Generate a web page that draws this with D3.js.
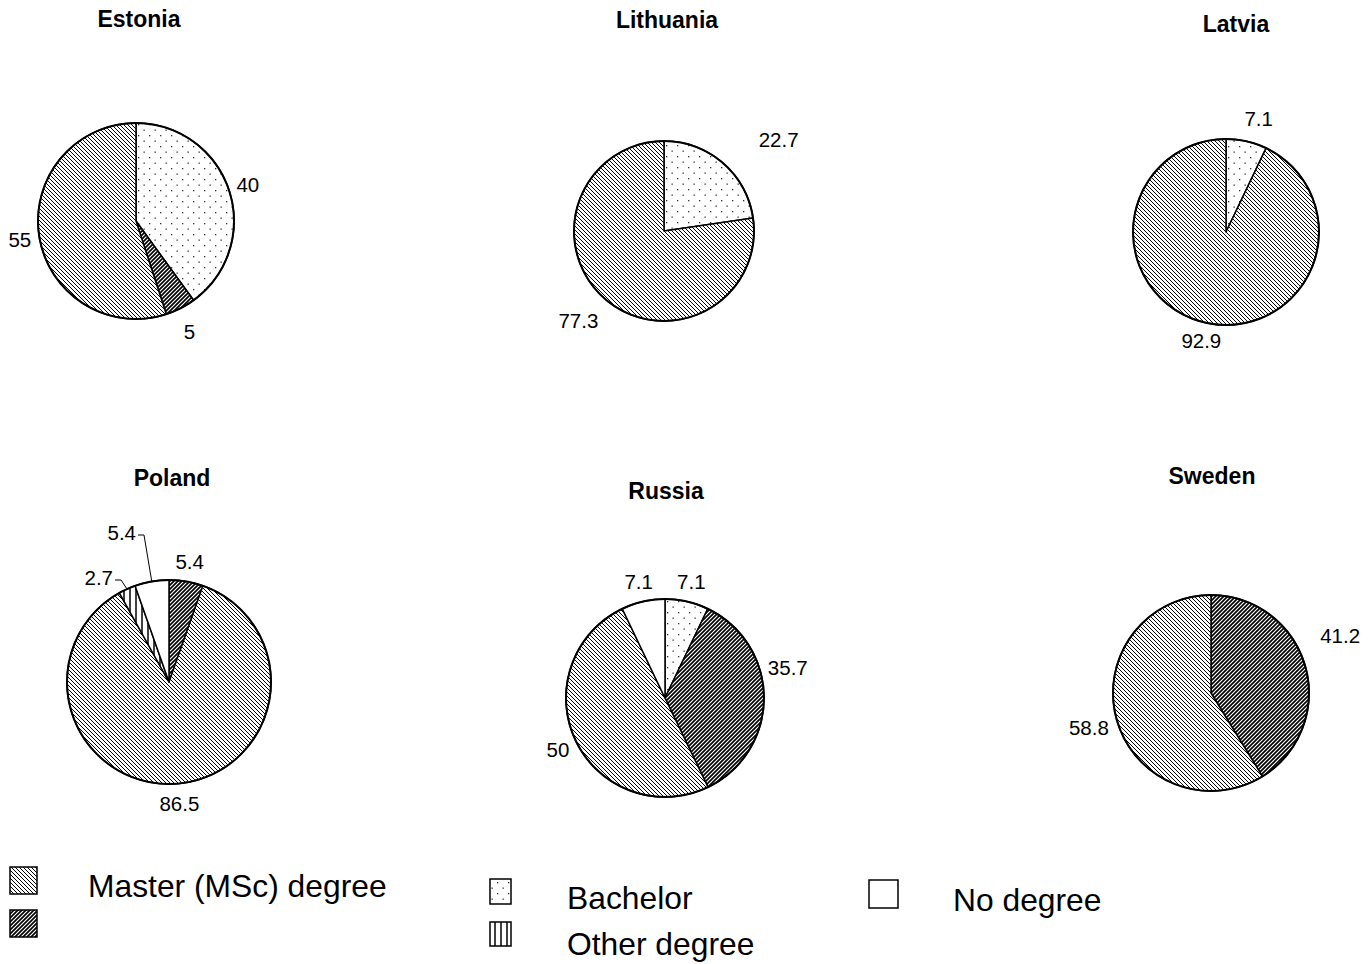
<!DOCTYPE html>
<html>
<head>
<meta charset="utf-8">
<script src="https://cdn.jsdelivr.net/npm/d3@7/dist/d3.min.js"></script>
<style>
  html, body { margin: 0; padding: 0; background: #fff; }
  svg { display: block; font-family: "Liberation Sans", Arial, sans-serif; }
</style>
</head>
<body>
<svg id="chart" width="1370" height="964"></svg>
<script>
// data (percent of respondents per country)
var countries = ['Estonia', 'Lithuania', 'Latvia', 'Poland', 'Russia', 'Sweden']
var bachelor = [40, 22.7, 7.1, 0, 7.1, 0]
var unlabelled = [5, 0, 0, 5.4, 35.7, 41.2]
var master = [55, 77.3, 92.9, 86.5, 50, 58.8]
var otherDegree = [0, 0, 0, 2.7, 0, 0]
var noDegree = [0, 0, 0, 5.4, 7.1, 0]

// slice order clockwise from 12 o'clock
var keys = ['bachelor', 'unlabelled', 'master', 'other', 'none']
var series = { bachelor: bachelor, unlabelled: unlabelled, master: master, other: otherDegree, none: noDegree }
var legendLabels = { master: 'Master (MSc) degree', unlabelled: '', bachelor: 'Bachelor', other: 'Other degree', none: 'No degree' }

// layout of each pie
var layout = {
  Estonia:   { cx: 136, cy: 221, r: 98,  tx: 139,  ty: 27 },
  Lithuania: { cx: 664, cy: 231, r: 90,  tx: 667,  ty: 28 },
  Latvia:    { cx: 1226, cy: 232, r: 93, tx: 1236, ty: 32 },
  Poland:    { cx: 169, cy: 682, r: 102, tx: 172,  ty: 486 },
  Russia:    { cx: 665, cy: 698, r: 99,  tx: 666,  ty: 499 },
  Sweden:    { cx: 1211, cy: 693, r: 98, tx: 1212, ty: 484 }
}
// small label nudges (Excel "best fit" placement)
var nudge = {
  'Estonia.unlabelled': [0, 6],
  'Lithuania.bachelor': [44, -10],
  'Lithuania.master': [-15, 8],
  'Latvia.bachelor': [8, -4],
  'Russia.unlabelled': [4, -30],
  'Sweden.unlabelled': [16, -25],
  'Sweden.master': [-9, 3]
}
// labels pulled out with leader lines (relative to centre)
var leaders = {
  'Poland.other': [-56, -104],
  'Poland.none': [-33, -149]
}

var svg = d3.select('#chart')
var defs = svg.append('defs')

// fill patterns
var p = defs.append('pattern').attr('id', 'pat-master')
  .attr('patternUnits', 'userSpaceOnUse').attr('width', 4).attr('height', 4)
p.append('rect').attr('width', 4).attr('height', 4).attr('fill', '#fff')
p.append('path').attr('d', 'M-1,-1 L5,5 M-1,3 L1,5 M3,-1 L5,1')
  .attr('stroke', '#000').attr('stroke-width', 1)

p = defs.append('pattern').attr('id', 'pat-unlabelled')
  .attr('patternUnits', 'userSpaceOnUse').attr('width', 4).attr('height', 4)
p.append('rect').attr('width', 4).attr('height', 4).attr('fill', '#fff')
p.append('path').attr('d', 'M-1,5 L5,-1 M-1,1 L1,-1 M3,5 L5,3')
  .attr('stroke', '#000').attr('stroke-width', 1.7)

p = defs.append('pattern').attr('id', 'pat-bachelor')
  .attr('patternUnits', 'userSpaceOnUse').attr('width', 11).attr('height', 11)
p.append('rect').attr('width', 11).attr('height', 11).attr('fill', '#fff')
p.append('rect').attr('x', 2).attr('y', 2).attr('width', 1.3).attr('height', 1.3).attr('fill', '#333')
p.append('rect').attr('x', 7.5).attr('y', 7.5).attr('width', 1.3).attr('height', 1.3).attr('fill', '#333')

p = defs.append('pattern').attr('id', 'pat-other')
  .attr('patternUnits', 'userSpaceOnUse').attr('width', 6).attr('height', 6)
p.append('rect').attr('width', 6).attr('height', 6).attr('fill', '#fff')
p.append('path').attr('d', 'M3,0 L3,6').attr('stroke', '#000').attr('stroke-width', 1.5)

var fill = function(k) { return k === 'none' ? '#fff' : 'url(#pat-' + k + ')' }

var pie = d3.pie().sort(null).value(function(d) { return d.value })

countries.forEach(function(c, ci) {
  var L = layout[c]
  var slices = keys
    .map(function(k) { return { key: k, value: series[k][ci] } })
    .filter(function(d) { return d.value > 0 })
  var arcs = pie(slices)
  var arc = d3.arc().innerRadius(0).outerRadius(L.r)
  var labelArc = d3.arc().innerRadius(L.r * 1.2).outerRadius(L.r * 1.2)

  var g = svg.append('g').attr('transform', 'translate(' + L.cx + ',' + L.cy + ')')

  g.selectAll('path.slice')
    .data(arcs)
    .enter().append('path')
    .attr('class', 'slice')
    .attr('d', arc)
    .attr('fill', function(d) { return fill(d.data.key) })
    .attr('stroke', '#000')
    .attr('stroke-width', 1.5)
    .attr('stroke-linejoin', 'round')

  g.append('circle').attr('r', L.r).attr('fill', 'none')
    .attr('stroke', '#000').attr('stroke-width', 2)

  arcs.forEach(function(d) {
    var id = c + '.' + d.data.key
    var lab = g.append('text')
      .attr('font-size', 20.5)
      .attr('fill', '#000')
      .attr('dy', '0.35em')
      .text(d3.format('')(d.data.value))
    if (leaders[id]) {
      var pos = leaders[id]
      var mid = (d.startAngle + d.endAngle) / 2
      var ex = L.r * Math.sin(mid), ey = -L.r * Math.cos(mid)
      lab.attr('x', pos[0]).attr('y', pos[1]).attr('text-anchor', 'end')
      g.append('polyline')
        .attr('points', [[pos[0] + 2, pos[1] + 2], [pos[0] + 8, pos[1] + 2], [ex, ey]].join(' '))
        .attr('fill', 'none').attr('stroke', '#000').attr('stroke-width', 1)
    } else {
      var cpt = labelArc.centroid(d)
      var n = nudge[id] || [0, 0]
      lab.attr('x', cpt[0] + n[0]).attr('y', cpt[1] + n[1]).attr('text-anchor', 'middle')
    }
  })

  svg.append('text')
    .attr('x', L.tx).attr('y', L.ty)
    .attr('text-anchor', 'middle')
    .attr('font-size', 23)
    .attr('font-weight', 'bold')
    .text(c)
})

// legend
var legendPos = {
  master:     { x: 10,  y: 867, w: 27, h: 27, tx: 88,  ty: 897 },
  unlabelled: { x: 10,  y: 910, w: 27, h: 27, tx: 88,  ty: 940 },
  bachelor:   { x: 490, y: 879, w: 21, h: 25, tx: 567, ty: 909 },
  other:      { x: 490, y: 922, w: 21, h: 24, tx: 567, ty: 955 },
  none:       { x: 869, y: 880, w: 29, h: 28, tx: 953, ty: 911 }
}
var legend = svg.append('g').selectAll('g')
  .data(['master', 'unlabelled', 'bachelor', 'other', 'none'])
  .enter().append('g')

legend.append('rect')
  .attr('x', function(k) { return legendPos[k].x })
  .attr('y', function(k) { return legendPos[k].y })
  .attr('width', function(k) { return legendPos[k].w })
  .attr('height', function(k) { return legendPos[k].h })
  .attr('fill', fill)
  .attr('stroke', '#000')
  .attr('stroke-width', 1.5)

legend.append('text')
  .attr('x', function(k) { return legendPos[k].tx })
  .attr('y', function(k) { return legendPos[k].ty })
  .attr('font-size', 31.8)
  .text(function(k) { return legendLabels[k] })
</script>
</body>
</html>
